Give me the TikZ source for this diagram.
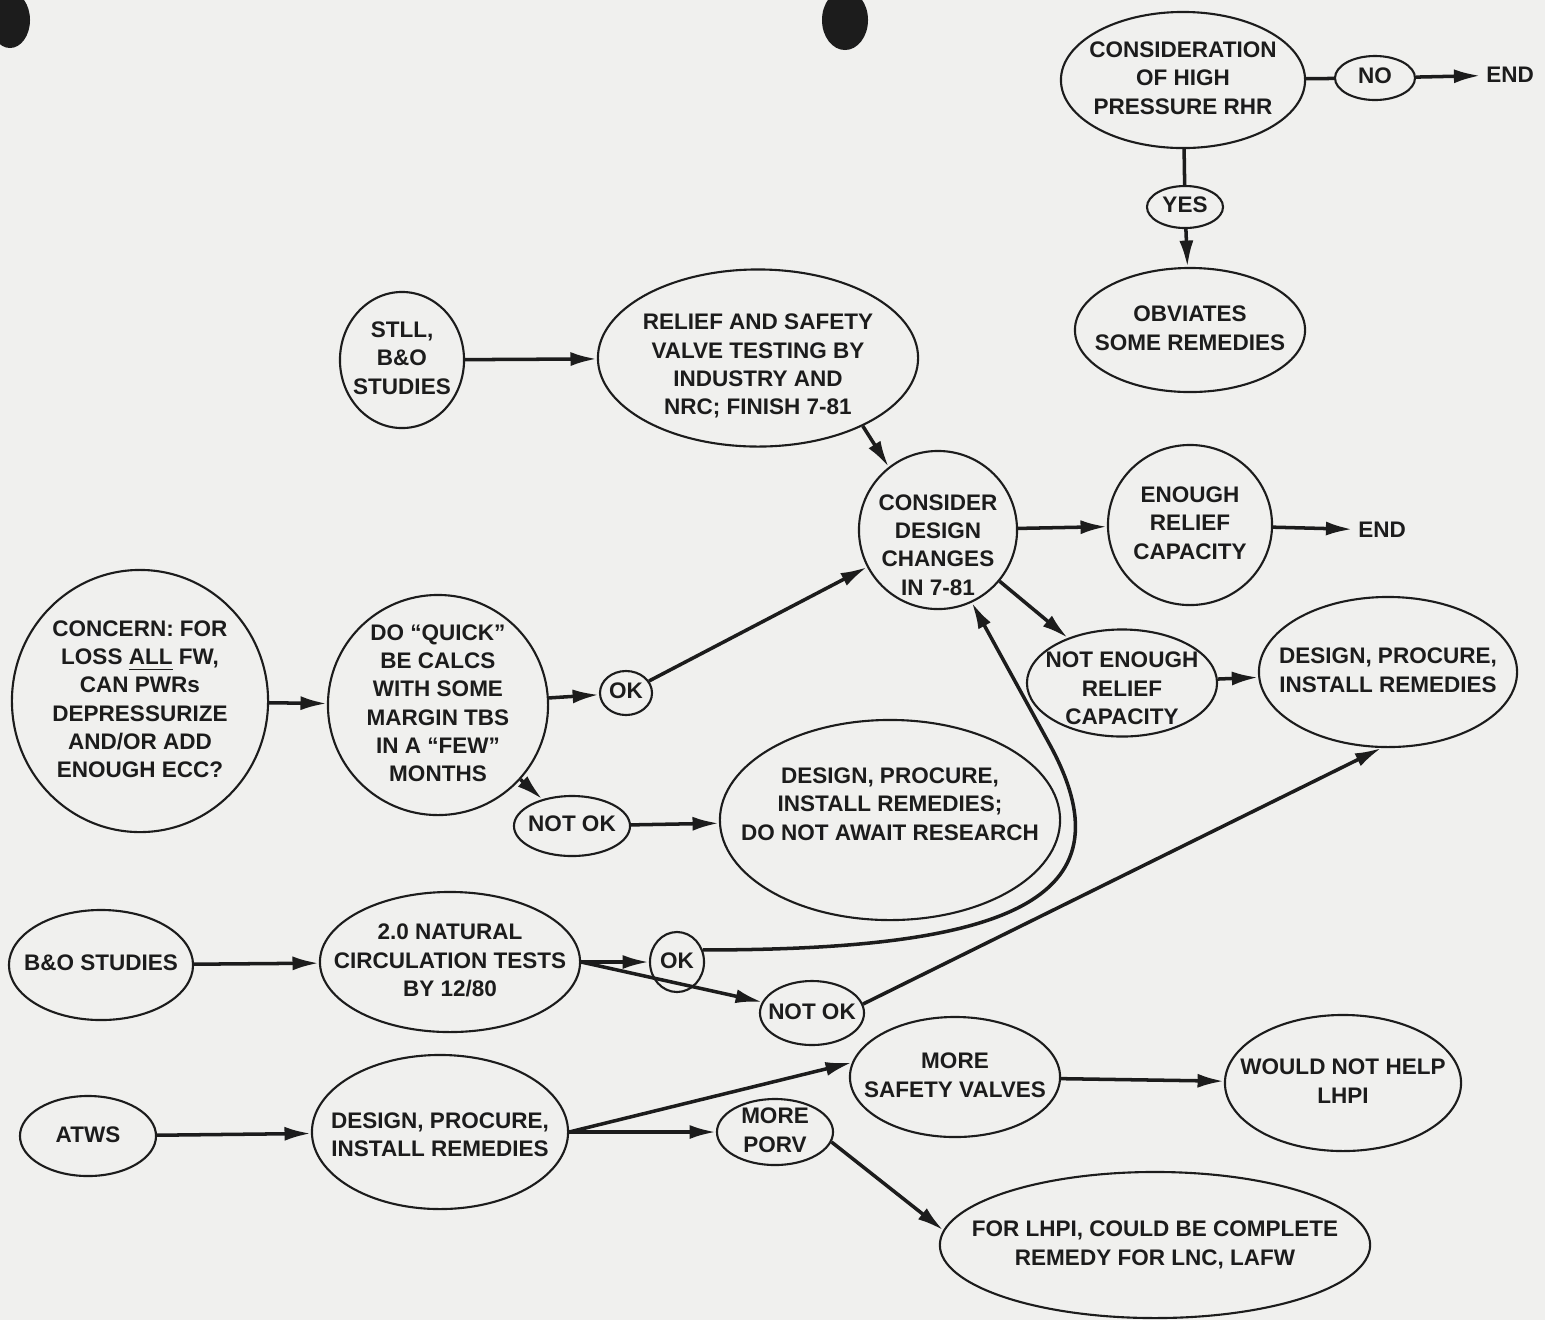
\documentclass[tikz,border=0pt]{standalone}
\usepackage{fontspec}
\setmainfont{Liberation Sans}
\usetikzlibrary{shapes.geometric,arrows.meta}
\definecolor{paper}{RGB}{240,240,238}
\definecolor{ink}{RGB}{28,28,28}
% centred text that does not widen the ellipse; optional arg moves it down
\newcommand{\tx}[2][0pt]{\smash{\raisebox{\dimexpr-0.25em-#1\relax}{\makebox[0pt]{\begin{tabular}{@{}c@{}}#2\end{tabular}}}}}

\begin{document}
\begin{tikzpicture}
        [x=0.01cm, y=-0.01cm, font=\fontsize{6.4}{8}\selectfont\bfseries, color=ink,
        bub/.style={ellipse, draw=ink, semithick, inner sep=0pt},
        line/.style={draw=ink, line width=1pt},
        arr/.style={line, -{Latex[length=7.5pt,width=4pt]}},
        word/.style={inner sep=1.5pt}]

        \fill[paper] (0,0) rectangle (1545,1320);
        \useasboundingbox (0,0) rectangle (1545,1320);

        % punch holes of the scanned sheet
        \fill[ink] (10,20) ellipse [x radius=0.2cm, y radius=0.28cm];
        \fill[ink] (845,20) ellipse [x radius=0.23cm, y radius=0.3cm];

        % top right: high pressure RHR
        \node[bub, minimum width=2.44cm, minimum height=1.36cm] (hp) at (1183,80) {\tx{CONSIDERATION\\OF HIGH\\PRESSURE RHR}};
        \node[bub, minimum width=0.80cm, minimum height=0.44cm] (no) at (1375,78) {\tx{NO}};
        \node[word] (endA) at (1510,75) {END};
        \node[bub, minimum width=0.76cm, minimum height=0.42cm] (yes) at (1185,207) {\tx{YES}};
        \node[bub, minimum width=2.30cm, minimum height=1.24cm] (obv) at (1190,330) {\tx{OBVIATES\\SOME REMEDIES}};

        % valve testing and design changes
        \node[bub, minimum width=1.24cm, minimum height=1.36cm] (stll) at (402,360) {\tx{STLL,\\B\&O\\STUDIES}};
        \node[bub, minimum width=3.20cm, minimum height=1.77cm] (relief) at (758,358) {\tx[2.3pt]{RELIEF AND SAFETY\\VALVE TESTING BY\\INDUSTRY AND\\NRC; FINISH 7-81}};
        \node[bub, minimum width=1.58cm, minimum height=1.58cm] (cons) at (938,530) {\tx[4.8pt]{CONSIDER\\DESIGN\\CHANGES\\IN 7-81}};
        \node[bub, minimum width=1.64cm, minimum height=1.60cm] (enough) at (1190,525) {\tx{ENOUGH\\RELIEF\\CAPACITY}};
        \node[word] (endB) at (1382,530) {END};
        \node[bub, minimum width=1.90cm, minimum height=1.07cm] (short) at (1122,683) {\tx[2pt]{NOT ENOUGH\\RELIEF\\CAPACITY}};
        \node[bub, minimum width=2.58cm, minimum height=1.50cm] (fixR) at (1388,672) {\tx{DESIGN, PROCURE,\\INSTALL REMEDIES}};

        % loss of all feedwater
        \node[bub, minimum width=2.56cm, minimum height=2.62cm] (concern) at (140,701) {\tx{CONCERN: FOR\\LOSS \underline{ALL} FW,\\CAN PWRs\\DEPRESSURIZE\\AND/OR ADD\\ENOUGH ECC?}};
        \node[bub, minimum width=2.20cm, minimum height=2.20cm] (quick) at (438,705) {\tx{DO ``QUICK''\\BE CALCS\\WITH SOME\\MARGIN TBS\\IN A ``FEW''\\MONTHS}};
        \node[bub, minimum width=0.52cm, minimum height=0.44cm] (okA) at (626,693) {\tx{OK}};
        \node[bub, minimum width=1.16cm, minimum height=0.60cm] (nokA) at (572,826) {\tx{NOT OK}};
        \node[bub, minimum width=3.40cm, minimum height=2.00cm] (fixA) at (890,820) {\tx[-4pt]{DESIGN, PROCURE,\\INSTALL REMEDIES;\\DO NOT AWAIT RESEARCH}};

        % natural circulation tests
        \node[bub, minimum width=1.84cm, minimum height=1.10cm] (bo) at (101,965) {\tx{B\&O STUDIES}};
        \node[bub, minimum width=2.60cm, minimum height=1.40cm] (nat) at (450,962) {\tx{2.0 NATURAL\\CIRCULATION TESTS\\BY 12/80}};
        \node[bub, minimum width=0.54cm, minimum height=0.60cm] (okB) at (677,962) {\tx{OK}};
        \node[bub, minimum width=1.04cm, minimum height=0.64cm] (nokB) at (812,1013) {\tx{NOT OK}};

        % ATWS
        \node[bub, minimum width=1.36cm, minimum height=0.80cm] (atws) at (88,1136) {\tx{ATWS}};
        \node[bub, minimum width=2.56cm, minimum height=1.54cm] (fixB) at (440,1132) {\tx[1.4pt]{DESIGN, PROCURE,\\INSTALL REMEDIES}};
        \node[bub, minimum width=2.10cm, minimum height=1.20cm] (valves) at (955,1077) {\tx{MORE\\SAFETY VALVES}};
        \node[bub, minimum width=1.16cm, minimum height=0.66cm] (porv) at (775,1132) {\tx{MORE\\PORV}};
        \node[bub, minimum width=2.36cm, minimum height=1.36cm] (nohelp) at (1343,1083) {\tx{WOULD NOT HELP\\LHPI}};
        \node[bub, minimum width=4.30cm, minimum height=1.46cm] (lhpi) at (1155,1245) {\tx{FOR LHPI, COULD BE COMPLETE\\REMEDY FOR LNC, LAFW}};

        \draw[line] (hp) -- (no);
        \draw[arr] (no) -- (endA);
        \draw[line] (hp) -- (yes);
        \draw[arr] (yes) -- (obv);

        \draw[arr] (stll) -- (relief);
        \draw[arr] (relief.-33) -- (cons.128);
        \draw[arr] (cons) -- (enough);
        \draw[arr] (enough) -- (endB);
        \draw[arr] (cons) -- (short);
        \draw[arr] (short) -- (fixR);

        \draw[arr] (concern) -- (quick);
        \draw[arr] (quick) -- (okA);
        \draw[arr] (okA) -- (cons);
        \draw[arr] (quick) -- (nokA);
        \draw[arr] (nokA) -- (fixA);

        \draw[arr] (bo) -- (nat);
        \draw[arr] (nat.east) -- (okB);
        \draw[arr] (nat.east) -- (nokB);
        % loop back round the right of fixA
        \coordinate (bendB) at (1050,745);
        \draw[arr] (okB.25) .. controls (1000,950) and (1136,903) .. (bendB) -- (cons.-65);
        \draw[arr] (nokB.10) -- (fixR.-95);

        \draw[arr] (atws) -- (fixB);
        \draw[arr] (fixB.east) -- (valves.172);
        \draw[arr] (fixB.east) -- (porv);
        \draw[arr] (valves) -- (nohelp);
        \draw[arr] (porv.-10) -- (lhpi.176);
    \end{tikzpicture}
\end{document}
